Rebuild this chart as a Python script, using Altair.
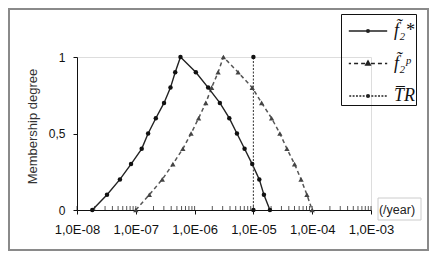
import altair as alt
import pandas as pd

# ---- data ----
mu = [0, 0.1, 0.2, 0.3, 0.4, 0.5, 0.6, 0.7, 0.8, 0.9, 1.0,
      0.9, 0.8, 0.7, 0.6, 0.5, 0.4, 0.3, 0.2, 0.1, 0]
f2s_x = [1.82e-8, 3.24e-8, 5.37e-8, 8.3e-8, 1.26e-7, 1.62e-7, 2.19e-7, 3.02e-7,
         3.89e-7, 4.68e-7, 5.75e-7, 1.05e-6, 1.70e-6, 2.69e-6, 3.89e-6, 5.25e-6,
         7.08e-6, 9.55e-6, 1.26e-5, 1.51e-5, 1.91e-5]
f2p_x = [1.0e-7, 1.70e-7, 2.82e-7, 4.27e-7, 6.31e-7, 8.71e-7, 1.17e-6, 1.55e-6,
         1.95e-6, 2.51e-6, 3.09e-6, 5.50e-6, 9.55e-6, 1.38e-5, 2.04e-5, 2.82e-5,
         3.72e-5, 5.01e-5, 6.46e-5, 8.13e-5, 1.0e-4]
tr_x = [1e-5, 1e-5]
tr_y = [0, 1]
decades = [1e-8, 1e-7, 1e-6, 1e-5, 1e-4, 1e-3]
minor_mult = [2, 3, 4, 5, 6, 7, 8, 9]
y_ticks = [0, 0.5, 1]
labels = ["f\u0303\u2082*", "f\u0303\u2082\u1d56", "T\u0305R"]
x_unit = "(/year)"

minor = [m * d for d in decades[:-1] for m in minor_mult] + decades

df_s = pd.DataFrame({"x": f2s_x, "y": mu})
df_p = pd.DataFrame({"x": f2p_x, "y": mu})
df_tr = pd.DataFrame({"x": tr_x, "y": tr_y})
df_minor = pd.DataFrame({"x": minor, "y": [0] * len(minor)})
df_leg = pd.DataFrame({"series": labels, "x": [1e-10] * 3, "y": [0.5] * 3})


# legend symbol paths (unit box, line + marker drawn with strokes)
def dash_path(dash, gap, half=1.2, inner=0.18):
    segs = []
    for side in (-1, 1):
        p = inner
        while p < half:
            e = min(p + dash, half)
            segs.append(f"M{side*p:.3f},0L{side*e:.3f},0")
            p = e + gap
    return "".join(segs)


def ring(r):
    return f"M{-r},0A{r},{r} 0 1,0 {r},0A{r},{r} 0 1,0 {-r},0Z"


def triangle(s):
    return f"M0,{-1.1*s:.3f}L{s:.3f},{0.7*s:.3f}L{-s:.3f},{0.7*s:.3f}Z"


dot = ring(0.09) + ring(0.03)
tri = triangle(0.15) + triangle(0.08) + triangle(0.02)
paths = [
    "M-1.2,0L1.2,0" + dot,
    dash_path(0.25, 0.19) + tri,
    dash_path(0.12, 0.09, inner=0.0) + dot,
]

xscale = alt.Scale(type="log", domain=[1e-8, 1e-3], nice=False)
yscale = alt.Scale(domain=[0, 1], nice=False)

xenc = alt.X("x:Q", scale=xscale,
             axis=alt.Axis(values=decades, tickSize=4, labelPadding=9,
                           labelExpr="'1,0E-0' + (-round(log(datum.value)/LN10))",
                           labelFontSize=13, labelColor="#111", domainColor="#111",
                           tickColor="#111", title=None, grid=False, labelFlush=False))
yenc = alt.Y("y:Q", scale=yscale,
             axis=alt.Axis(values=y_ticks, tickSize=4, labelPadding=8,
                           labelExpr="replace(format(datum.value, '~g'), '.', ',')",
                           labelFontSize=12, labelColor="#111", domainColor="#111",
                           tickColor="#111", grid=False,
                           title="Membership degree", titleFontSize=13,
                           titleFontWeight="normal", titleColor="#333",
                           titleX=-45, titleY=69, titleAngle=270,
                           titleAlign="center", titleBaseline="middle"))

s_line = alt.Chart(df_s).mark_line(color="#222", strokeWidth=1.4).encode(x=xenc, y=yenc)
s_pts = alt.Chart(df_s).mark_point(filled=True, shape="circle", size=20, color="#111", opacity=1).encode(x="x:Q", y="y:Q")
p_line = alt.Chart(df_p).mark_line(color="#555", strokeWidth=1.5, strokeDash=[4, 3]).encode(x="x:Q", y="y:Q")
p_pts = alt.Chart(df_p).mark_point(filled=True, shape="triangle-up", size=28, color="#444", opacity=1).encode(x="x:Q", y="y:Q")
tr_line = alt.Chart(df_tr).mark_line(color="#444", strokeWidth=1.1, strokeDash=[2, 1.5]).encode(x="x:Q", y="y:Q")
tr_pts = alt.Chart(df_tr).mark_point(filled=True, shape="circle", size=20, color="#111", opacity=1).encode(x="x:Q", y="y:Q")
ticks = alt.Chart(df_minor).mark_tick(color="#111", size=4, thickness=1, yOffset=-2, orient="vertical").encode(x="x:Q", y="y:Q")

leg = alt.Chart(df_leg).mark_point(filled=False, clip=True, opacity=1, color="#222",
                                   strokeWidth=1.3).encode(
    x="x:Q", y="y:Q",
    shape=alt.Shape("series:N", scale=alt.Scale(domain=labels, range=paths),
                    legend=alt.Legend(orient="none", legendX=264, legendY=-43, title=None,
                                      strokeColor="#111", padding=0, rowPadding=6.5,
                                      symbolSize=1024, symbolStrokeWidth=1.3,
                                      symbolStrokeColor="#222",
                                      labelFont="Liberation Serif", labelFontStyle="italic",
                                      labelFontSize=18, labelOffset=9, labelColor="#111",
                                      symbolOffset=10)),
)

one = pd.DataFrame({"k": [0]})
border = alt.Chart(one).mark_rect(fill=None, stroke="#8a8a8a", strokeWidth=2).encode(
    x=alt.value(-68), x2=alt.value(351), y=alt.value(-48), y2=alt.value(193))
unit_box = alt.Chart(one).mark_rect(fill=None, stroke="#cccccc", strokeWidth=1).encode(
    x=alt.value(301), x2=alt.value(344), y=alt.value(141), y2=alt.value(163))
unit_txt = alt.Chart(pd.DataFrame({"x": [1e-3], "y": [0], "t": [x_unit]})).mark_text(
    fontSize=12.5, color="#222", dx=26, align="center", baseline="middle").encode(
    x="x:Q", y="y:Q", text="t:N")

chart = alt.layer(border, unit_box, ticks, p_line, s_line, tr_line, p_pts, s_pts, tr_pts,
                  unit_txt, leg).properties(
    width=294, height=153,
    autosize=alt.AutoSizeParams(type="none"),
    padding={"left": 69, "top": 49, "right": 58, "bottom": 41},
).configure_view(stroke=None).configure(font="Liberation Sans")

chart.save("out.html", embed_options={"renderer": "svg", "actions": False})
